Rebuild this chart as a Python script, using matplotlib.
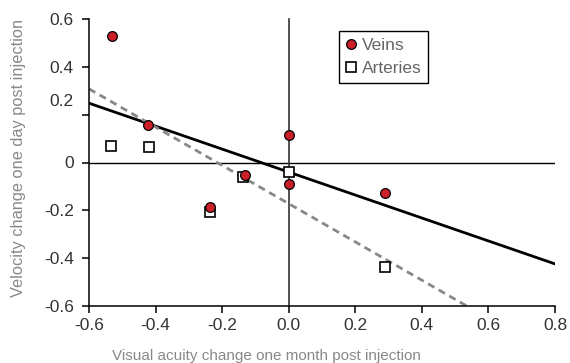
import numpy as np
import matplotlib
matplotlib.use("Agg")
import matplotlib.pyplot as plt

# --- data ---
vein_x = [-0.531, -0.423, 0.002, -0.236, -0.132, 0.002, 0.289]
vein_y = [0.531, 0.158, 0.117, -0.187, -0.052, -0.090, -0.127]

artery_x = [-0.534, -0.420, 0.000, -0.138, -0.236, 0.290]
artery_y = [0.071, 0.066, -0.041, -0.061, -0.205, -0.435]

# fitted lines (slope, intercept)
vein_fit = (-0.48, -0.040)
artery_fit = (-0.80, -0.172)

x_ticks = [-0.6, -0.4, -0.2, 0.0, 0.2, 0.4, 0.6, 0.8]
x_labels = ["-0.6", "-0.4", "-0.2", "0.0", "0.2", "0.4", "0.6", "0.8"]
y_ticks = [-0.6, -0.4, -0.2, 0.0, 0.2, 0.4, 0.6]
y_labels = ["-0.6", "-0.4", "-0.2", "0", "", "0.4", "0.6"]

plt.rcParams['font.family'] = ['Liberation Sans', 'DejaVu Sans']

fig = plt.figure(figsize=(5.7, 3.63), dpi=100)
ax = fig.add_axes([89 / 570, 57 / 363, 466 / 570, 287 / 363])

ax.set_xlim(-0.6, 0.8)
ax.set_ylim(-0.6, 0.6)

# zero lines
ax.axhline(0, color='black', lw=1.0, zorder=1)
ax.axvline(0, color='#333333', lw=1.2, zorder=1, clip_on=False)

# fit lines
xs = np.array([-0.6, 0.8])
ax.plot(xs, vein_fit[0] * xs + vein_fit[1], color='black', lw=2.0, zorder=2)
ax.plot(xs, artery_fit[0] * xs + artery_fit[1], color='#888888', lw=2.0,
        linestyle=(0, (2.6, 1.8)), zorder=2)

# points
ax.plot(artery_x, artery_y, 's', ms=7, mfc='white', mec='black', mew=1.2,
        label='Arteries', zorder=3, linestyle='none')
ax.plot(vein_x, vein_y, 'o', ms=7, mfc='#cc1f2a', mec='black', mew=0.9,
        label='Veins', zorder=4, linestyle='none')

# axes styling
ax.spines['top'].set_visible(False)
ax.spines['right'].set_visible(False)
for s in ('left', 'bottom'):
    ax.spines[s].set_color('black')
    ax.spines[s].set_linewidth(1.1)

ax.set_xticks(x_ticks)
ax.set_xticklabels(x_labels)
ax.set_yticks(y_ticks)
ax.set_yticklabels(y_labels)
ax.tick_params(axis='both', direction='out', length=5, width=1.1, color='black',
               labelsize=12.5, labelcolor='#333333')
ax.tick_params(axis='y', pad=6)
ax.tick_params(axis='x', pad=4)

# the 0.2 label sits above its tick in the original
ax.text(-0.6 - 16 / 333, 0.255, "0.2", ha='right', va='center',
        fontsize=12.5, color='#333333')

# axis labels
fig.text(266 / 570, 1 - 356 / 363, "Visual acuity change one month post injection",
         ha='center', va='center', fontsize=11, color='#888888')
fig.text(19 / 570, 1 - 158 / 363, "Velocity change one day post injection",
         ha='center', va='center', rotation=90, fontsize=11.8, color='#888888')

handles, labels = ax.get_legend_handles_labels()
leg = ax.legend(handles[::-1], labels[::-1], loc='upper left',
                bbox_to_anchor=(250 / 466, 275 / 287), borderaxespad=0,
                fancybox=False, framealpha=1, edgecolor='black',
                fontsize=12.5, handlelength=0.6, handletextpad=0.3,
                borderpad=0.4, labelspacing=0.45)
leg.get_frame().set_linewidth(1.0)
for t in leg.get_texts():
    t.set_color('#666666')

fig.savefig("out.png", dpi=100)
